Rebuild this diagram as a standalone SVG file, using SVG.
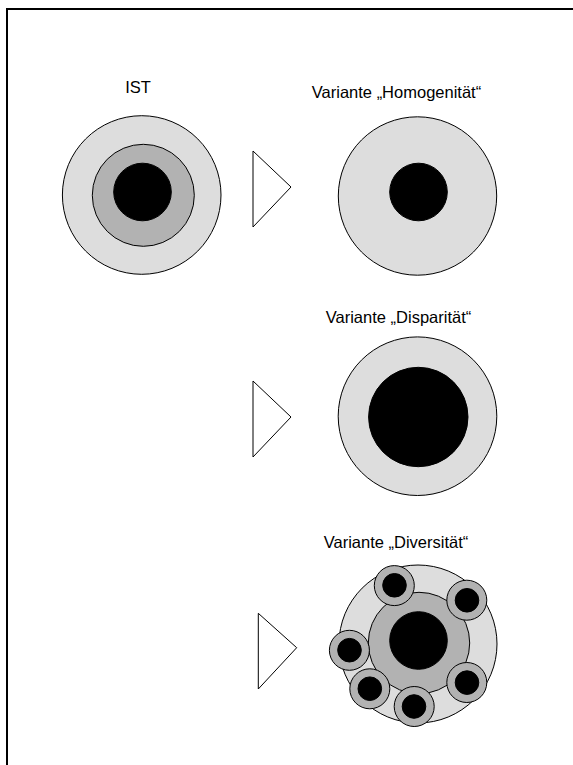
<svg xmlns="http://www.w3.org/2000/svg" width="573" height="765" viewBox="0 0 573 765">
  <style>
    .label { font-family: "Liberation Sans", Arial, sans-serif; font-size: 16.5px; fill: #000; text-anchor: middle; }
    .ring-light { fill: #dddddd; stroke: #000; stroke-width: 1; }
    .ring-mid { fill: #b2b2b2; stroke: #000; stroke-width: 1; }
    .core { fill: #000; stroke: #000; stroke-width: 1; }
    .arrow { fill: #fff; stroke: #000; stroke-width: 1; stroke-linejoin: miter; }
    .frame { fill: none; stroke: #000; stroke-width: 2; }
  </style>

  <rect width="573" height="765" fill="#fff"/>
  <!-- page frame (only top and left edges fall inside the view) -->
  <path class="frame" d="M7,765 V9 H573"/>

  <!-- current state -->
  <g id="ist">
    <text class="label" x="138" y="93">IST</text>
    <circle class="ring-light" cx="141.7" cy="195" r="79.3"/>
    <circle class="ring-mid" cx="143.3" cy="195.3" r="51"/>
    <circle class="core" cx="142.5" cy="192" r="28.8"/>
  </g>

  <!-- variant: homogeneity -->
  <g id="homogenitaet">
    <text class="label" x="396.5" y="98">Variante „Homogenität“</text>
    <circle class="ring-light" cx="417.5" cy="196" r="79.2"/>
    <circle class="core" cx="418.5" cy="192" r="28.8"/>
  </g>

  <!-- variant: disparity -->
  <g id="disparitaet">
    <text class="label" x="398.5" y="323">Variante „Disparität“</text>
    <circle class="ring-light" cx="417.5" cy="416.2" r="79.3"/>
    <circle class="core" cx="418.3" cy="417" r="49.7"/>
  </g>

  <!-- variant: diversity -->
  <g id="diversitaet">
    <text class="label" x="396" y="548">Variante „Diversität“</text>
    <circle class="ring-light" cx="418" cy="644" r="79"/>
    <circle class="ring-mid" cx="419" cy="643" r="50.7"/>
    <circle class="core" cx="418.5" cy="640.5" r="28.8"/>
    <g id="satellites">
      <circle class="ring-mid" cx="394.3" cy="585.6" r="20"/>
      <circle class="core" cx="394.5" cy="585.3" r="11.8"/>
      <circle class="ring-mid" cx="466.8" cy="600.2" r="20"/>
      <circle class="core" cx="467" cy="600.3" r="11.8"/>
      <circle class="ring-mid" cx="349.4" cy="650.3" r="20"/>
      <circle class="core" cx="349.5" cy="650.2" r="11.8"/>
      <circle class="ring-mid" cx="369.8" cy="688.8" r="20"/>
      <circle class="core" cx="369.8" cy="688.7" r="11.8"/>
      <circle class="ring-mid" cx="414.2" cy="706.5" r="20"/>
      <circle class="core" cx="414" cy="706.5" r="11.8"/>
      <circle class="ring-mid" cx="466.8" cy="682.5" r="20"/>
      <circle class="core" cx="467" cy="682.6" r="11.8"/>
    </g>
  </g>

  <!-- transition arrows -->
  <g id="connectors">
    <polygon class="arrow" points="253,151 253,227 291,187"/>
    <polygon class="arrow" points="253,381 253,457 291,417"/>
    <polygon class="arrow" points="258.3,613.3 258.3,689 296.7,647.7"/>
  </g>
</svg>
